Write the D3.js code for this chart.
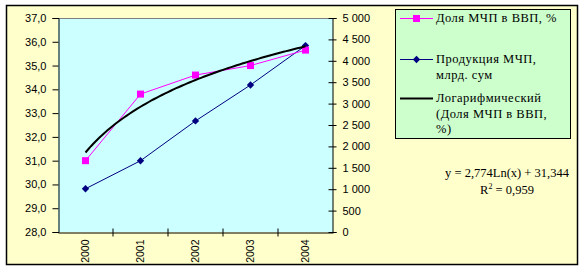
<!DOCTYPE html>
<meta charset="utf-8">
<script src="https://d3js.org/d3.v7.min.js"></script>
<style>
  body { margin: 0; background: #fff; }
  .serif { font-family: "Liberation Serif", "Times New Roman", serif; }
  .sans { font-family: "Liberation Sans", Arial, sans-serif; }
</style>
<body>
<div id="chart"></div>
<script>
  // data
  var years = ["2000", "2001", "2002", "2003", "2004"];
  var share = [31.0, 33.8, 34.6, 35.0, 35.65];          // Доля МЧП в ВВП, %
  var production = [1010, 1665, 2595, 3435, 4355];     // Продукция МЧП, млрд. сум
  var trendCoef = [2.774, 31.344];                      // y = a*Ln(x) + b
  var leftTicks = [28, 29, 30, 31, 32, 33, 34, 35, 36, 37];
  var rightTicks = [0, 500, 1000, 1500, 2000, 2500, 3000, 3500, 4000, 4500, 5000];

  var W = 585, H = 271;
  var plot = { left: 58, top: 18, right: 333, bottom: 232 };

  var svg = d3.select("#chart").append("svg")
    .attr("width", W).attr("height", H);

  // outer frame
  svg.append("rect")
    .attr("x", 6.5).attr("y", 5.5).attr("width", 571).attr("height", 259)
    .attr("fill", "#ffffcc").attr("stroke", "#000").attr("stroke-width", 1.5);

  var x = d3.scaleBand().domain(years).range([plot.left, plot.right]);
  var yL = d3.scaleLinear().domain([28, 37]).range([plot.bottom, plot.top]);
  var yR = d3.scaleLinear().domain([0, 5000]).range([plot.bottom, plot.top]);

  // plot area
  svg.append("rect")
    .attr("x", plot.left).attr("y", plot.top)
    .attr("width", plot.right - plot.left).attr("height", plot.bottom - plot.top)
    .attr("fill", "#ccffff");
  svg.append("line")
    .attr("x1", plot.left).attr("x2", plot.right)
    .attr("y1", plot.top + 0.5).attr("y2", plot.top + 0.5)
    .attr("stroke", "#808080");

  var fmtL = function (d) { return d3.format(".1f")(d).replace(".", ","); };
  var fmtR = function (d) { return d3.format(",")(d).replace(/,/g, " "); };

  // left axis
  var gL = svg.append("g")
    .attr("transform", "translate(" + (plot.left + 0.5) + ",0)")
    .call(d3.axisLeft(yL).tickValues(leftTicks).tickFormat(fmtL).tickSize(6).tickPadding(6));
  // right axis
  var gR = svg.append("g")
    .attr("transform", "translate(" + (plot.right - 0.5) + ",0)")
    .call(d3.axisRight(yR).tickValues(rightTicks).tickFormat(fmtR).tickSize(4).tickPadding(6));
  gR.selectAll(".tick line").attr("x1", -4);
  // bottom axis, ticks between categories
  var gB = svg.append("g")
    .attr("transform", "translate(0," + (plot.bottom + 0.5) + ")")
    .call(d3.axisBottom(x).tickSize(0).tickPadding(0));
  gB.selectAll(".tick text")
    .attr("transform", "rotate(-90)")
    .attr("x", -7).attr("y", 0).attr("dy", "0.35em")
    .style("text-anchor", "end");
  years.forEach(function (d, i) {
    if (i === 0) return;
    gB.append("line")
      .attr("x1", x(d)).attr("x2", x(d)).attr("y1", -4).attr("y2", 4)
      .attr("stroke", "#000");
  });

  [gL, gR, gB].forEach(function (g) {
    g.attr("font-family", null).attr("font-size", null);
    g.selectAll(".domain").attr("stroke", "#000");
    g.selectAll("line").attr("stroke", "#000");
    g.selectAll("text")
      .attr("class", "sans")
      .style("font-size", "11px").attr("fill", "#000");
  });
  gB.selectAll("text").style("font-size", "10.5px");

  var cx = function (d, i) { return x(years[i]) + x.bandwidth() / 2; };

  // production line (right axis)
  svg.append("path")
    .datum(production)
    .attr("fill", "none").attr("stroke", "#000080").attr("stroke-width", 1)
    .attr("d", d3.line().x(cx).y(function (d) { return yR(d); }));
  svg.selectAll(".dia").data(production).enter().append("rect")
    .attr("x", -2.6).attr("y", -2.6).attr("width", 5.2).attr("height", 5.2)
    .attr("transform", function (d, i) { return "translate(" + cx(d, i) + "," + yR(d) + ") rotate(45)"; })
    .attr("fill", "#000080");

  // share line (left axis)
  svg.append("path")
    .datum(share)
    .attr("fill", "none").attr("stroke", "#ff00ff").attr("stroke-width", 1)
    .attr("d", d3.line().x(cx).y(function (d) { return yL(d); }));
  svg.selectAll(".sq").data(share).enter().append("rect")
    .attr("x", function (d, i) { return cx(d, i) - 3.5; })
    .attr("y", function (d) { return yL(d) - 3.5; })
    .attr("width", 7).attr("height", 7)
    .attr("fill", "#ff00ff");

  // logarithmic trend line from the displayed equation
  var xi = d3.scaleLinear().domain([1, 5]).range([cx(0, 0), cx(0, 4)]);
  var tsteps = d3.range(1, 5.001, 0.05);
  svg.append("path")
    .datum(tsteps)
    .attr("fill", "none").attr("stroke", "#000").attr("stroke-width", 2)
    .attr("d", d3.line()
      .x(function (t) { return xi(t); })
      .y(function (t) { return yL(trendCoef[0] * Math.log(t) + trendCoef[1]); }));

  // legend
  var lg = svg.append("g");
  lg.append("rect")
    .attr("x", 395.5).attr("y", 9.5).attr("width", 175).attr("height", 129)
    .attr("fill", "#ccffcc").attr("stroke", "#000").attr("stroke-width", 1);
  var items = [
    { y: 18, color: "#ff00ff", mark: "sq", lines: ["Доля МЧП в ВВП, %"] },
    { y: 59, color: "#000080", mark: "dia", lines: ["Продукция МЧП,", "млрд. сум"] },
    { y: 98, color: "#000", mark: "none", lines: ["Логарифмический", "(Доля МЧП в ВВП,", "%)"] }
  ];
  items.forEach(function (it) {
    lg.append("line")
      .attr("x1", 400).attr("x2", 433).attr("y1", it.y + 0.5).attr("y2", it.y + 0.5)
      .attr("stroke", it.color).attr("stroke-width", it.mark === "none" ? 2 : 1);
    if (it.mark === "sq") {
      lg.append("rect").attr("x", 413).attr("y", it.y - 3).attr("width", 7).attr("height", 7)
        .attr("fill", it.color);
    } else if (it.mark === "dia") {
      lg.append("rect")
        .attr("x", -2.6).attr("y", -2.6).attr("width", 5.2).attr("height", 5.2)
        .attr("transform", "translate(416.5," + (it.y + 0.5) + ") rotate(45)")
        .attr("fill", it.color);
    }
    it.lines.forEach(function (t, j) {
      lg.append("text")
        .attr("class", "serif")
        .attr("x", 436).attr("y", it.y + 4 + j * 15.5)
        .style("font-size", "12.5px").style("letter-spacing", "0.5px")
        .text(t);
    });
  });

  // trend equation
  var eq = svg.append("g").attr("class", "serif")
    .style("font-size", "12.5px").attr("text-anchor", "middle");
  eq.append("text").attr("x", 507).attr("y", 177).text("y = 2,774Ln(x) + 31,344");
  var r2 = eq.append("text").attr("x", 507).attr("y", 194);
  r2.append("tspan").text("R");
  r2.append("tspan").attr("dy", -5).style("font-size", "8px").text("2");
  r2.append("tspan").attr("dy", 5).text(" = 0,959");
</script>
</body>
